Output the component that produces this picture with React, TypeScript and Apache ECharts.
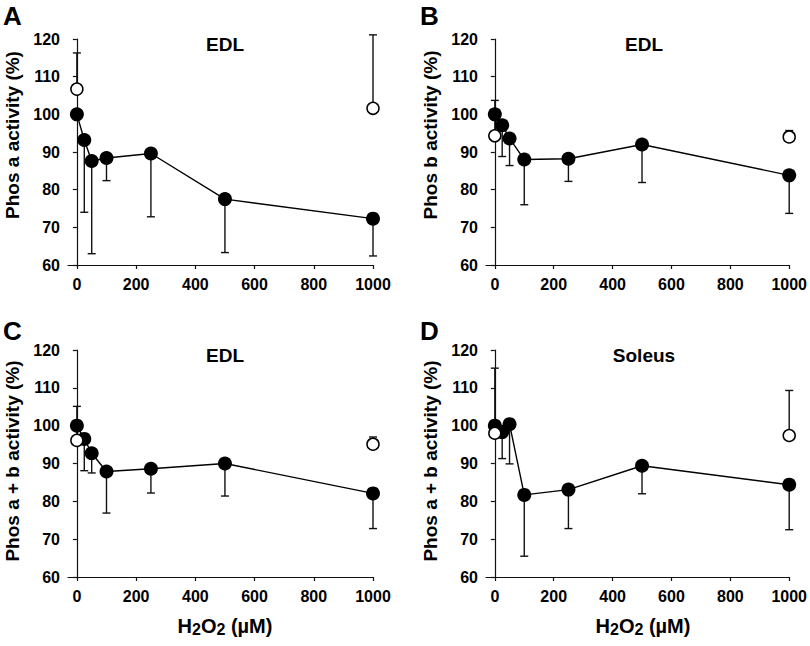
import React, { useEffect, useRef } from "react";
import * as echarts from "echarts";

// ---- data ----
const doses = [0, 25, 50, 100, 250, 500, 1000];
const openDoses = [0, 1000];
const xTicks = [0, 200, 400, 600, 800, 1000];

// Panel A: Phos a, EDL
const filledA = [100, 93.2, 87.6, 88.4, 89.6, 77.5, 72.3];
const filledErrA = [null, 74.0, 63.0, 82.4, 72.8, 63.3, 62.4];
const openA = [106.7, 101.6];
const openErrA = [116.3, 121.1];

// Panel B: Phos b, EDL
const filledB = [100, 97.1, 93.6, 88.0, 88.2, 92.0, 83.8];
const filledErrB = [null, 88.8, 86.4, 76.0, 82.2, 81.9, 73.7];
const openB = [94.3, 94.0];
const openErrB = [103.7, 95.7];

// Panel C: Phos a + b, EDL
const filledC = [100, 96.5, 92.7, 87.9, 88.6, 90.0, 82.1];
const filledErrC = [null, 88.1, 87.5, 76.9, 82.2, 81.4, 72.8];
const openC = [96.1, 95.1];
const openErrC = [105.1, 97.0];

// Panel D: Phos a + b, Soleus
const filledD = [100, 98.3, 100.4, 81.7, 83.1, 89.4, 84.4];
const filledErrD = [null, 91.3, 89.9, 65.5, 72.8, 82.0, 72.5];
const openD = [98.0, 97.4];
const openErrD = [115.2, 109.3];

const FONT = '"Liberation Sans", Arial, Helvetica, sans-serif';

const panels = [
  { letter: "A", title: "EDL", ytitle: "Phos a activity (%)", filled: filledA, filledErr: filledErrA, open: openA, openErr: openErrA, left: 68, top: 39, height: 226, ytx: 12, yty: 135, xtitle: false },
  { letter: "B", title: "EDL", ytitle: "Phos b activity (%)", filled: filledB, filledErr: filledErrB, open: openB, openErr: openErrB, left: 486, top: 39, height: 226, ytx: 430, yty: 135, xtitle: false },
  { letter: "C", title: "EDL", ytitle: "Phos a + b activity (%)", filled: filledC, filledErr: filledErrC, open: openC, openErr: openErrC, left: 68, top: 350, height: 227, ytx: 12, yty: 461, xtitle: true },
  { letter: "D", title: "Soleus", ytitle: "Phos a + b activity (%)", filled: filledD, filledErr: filledErrD, open: openD, openErr: openErrD, left: 486, top: 350, height: 227, ytx: 430, yty: 461, xtitle: true },
];

const GRID_W = 305;

function buildOption() {
  const grid: any[] = [];
  const xAxis: any[] = [];
  const yAxis: any[] = [];
  const series: any[] = [];
  const graphic: any[] = [];

  panels.forEach((p, i) => {
    grid.push({ left: p.left, top: p.top, width: GRID_W, height: p.height, containLabel: false });
    xAxis.push({
      type: "value",
      gridIndex: i,
      min: -30,
      max: 1000,
      splitLine: { show: false },
      axisLine: { show: true, lineStyle: { color: "#111", width: 1.2 } },
      axisTick: { show: true, length: 4, customValues: xTicks, lineStyle: { color: "#111", width: 1.2 } },
      axisLabel: {
        customValues: xTicks,
        formatter: (v: number) => String(v),
        margin: 11,
        color: "#000",
        fontSize: 16,
        fontWeight: "bold",
        fontFamily: FONT,
      },
    });
    yAxis.push({
      type: "value",
      gridIndex: i,
      min: 60,
      max: 120,
      interval: 10,
      splitLine: { show: false },
      axisLine: { show: true, lineStyle: { color: "#111", width: 1.2 } },
      axisTick: { show: true, length: 4, lineStyle: { color: "#111", width: 1.2 } },
      axisLabel: { margin: 8, color: "#000", fontSize: 16, fontWeight: "bold", fontFamily: FONT },
    });

    const errData: any[] = [];
    doses.forEach((d, k) => {
      if (p.filledErr[k] != null) errData.push([d, p.filled[k], p.filledErr[k]]);
    });
    openDoses.forEach((d, k) => {
      errData.push([d, p.open[k], p.openErr[k]]);
    });

    series.push({
      type: "custom",
      xAxisIndex: i,
      yAxisIndex: i,
      z: 1,
      clip: false,
      data: errData,
      renderItem: (params: any, api: any) => {
        const x = api.value(0);
        const p1 = api.coord([x, api.value(1)]);
        const p2 = api.coord([x, api.value(2)]);
        const st = { stroke: "#111", lineWidth: 1.4 };
        return {
          type: "group",
          children: [
            { type: "line", shape: { x1: p1[0], y1: p1[1], x2: p2[0], y2: p2[1] }, style: st },
            { type: "line", shape: { x1: p2[0] - 4, y1: p2[1], x2: p2[0] + 4, y2: p2[1] }, style: st },
          ],
        };
      },
    });
    series.push({
      type: "line",
      xAxisIndex: i,
      yAxisIndex: i,
      z: 2,
      data: doses.map((d, k) => [d, p.filled[k]]),
      symbol: "circle",
      symbolSize: 14,
      showSymbol: true,
      itemStyle: { color: "#000", opacity: 1 },
      lineStyle: { color: "#000", width: 1.4 },
    });
    series.push({
      type: "scatter",
      xAxisIndex: i,
      yAxisIndex: i,
      z: 3,
      data: openDoses.map((d, k) => [d, p.open[k]]),
      symbol: "circle",
      symbolSize: 12,
      itemStyle: { color: "#fff", borderColor: "#000", borderWidth: 1.5, opacity: 1 },
    });

    // panel letter
    graphic.push({
      type: "text",
      left: p.left < 100 ? 3 : 420,
      top: p.top < 100 ? 3 : 318,
      style: { text: p.letter, font: `bold 26px ${FONT}`, fill: "#000" },
    });
    // panel title
    graphic.push({
      type: "text",
      x: p.left + (p.left < 100 ? 157 : 158),
      y: p.top + 5,
      style: { text: p.title, font: `bold 19px ${FONT}`, fill: "#000", align: "center", verticalAlign: "middle" },
    });
    // y-axis title
    graphic.push({
      type: "text",
      x: p.ytx,
      y: p.yty,
      rotation: Math.PI / 2,
      style: { text: p.ytitle, font: `bold 19px ${FONT}`, fill: "#000", align: "center", verticalAlign: "middle" },
    });
    if (p.xtitle) {
      graphic.push({
        type: "text",
        x: p.left < 100 ? 225 : 643,
        y: 626,
        style: {
          text: "H{sub|2}O{sub|2} (µM)",
          font: `bold 20px ${FONT}`,
          fill: "#000",
          align: "center",
          verticalAlign: "middle",
          rich: {
            sub: { font: `bold 16px ${FONT}`, fill: "#000", padding: [7, 0, 0, 0] },
          },
        },
      });
    }
  });

  return {
    animation: false,
    backgroundColor: "#fff",
    grid,
    xAxis,
    yAxis,
    series,
    graphic,
  };
}

export default function App() {
  const ref = useRef<HTMLDivElement>(null);
  useEffect(() => {
    if (!ref.current) return;
    const chart = echarts.init(ref.current, null, { renderer: "svg" });
    chart.setOption(buildOption() as any);
    return () => chart.dispose();
  }, []);
  return <div ref={ref} style={{ position: "fixed", left: 0, top: 0, width: 810, height: 646 }} />;
}
